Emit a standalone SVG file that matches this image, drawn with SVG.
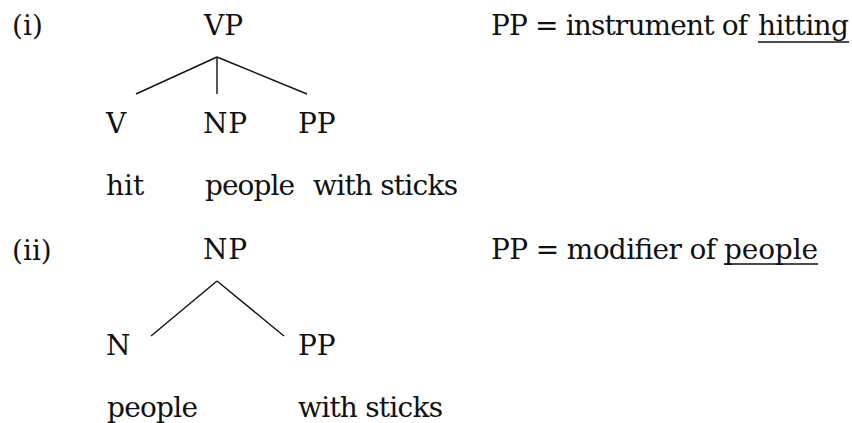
<svg xmlns="http://www.w3.org/2000/svg" width="852" height="423" viewBox="0 0 852 423">
<style>
text{font-family:"DejaVu Serif","Liberation Serif",serif;font-size:28px;fill:#111}
.e{stroke:#111;stroke-width:1.4;fill:none}
.u{stroke:#111;stroke-width:1.6}
</style>
<rect width="852" height="423" fill="#fff"/>
<g id="labels">
<text x="12" y="35">(i)</text>
<text x="12" y="260">(ii)</text>
</g>
<g id="tree1">
<g id="vp"><text x="204" y="35">VP</text></g>
<g id="v"><text x="106" y="133">V</text><text x="106" y="195">hit</text></g>
<g id="np1"><text x="203" y="133" textLength="44">NP</text><text x="205" y="195" textLength="90">people</text></g>
<g id="pp1"><text x="298" y="133">PP</text><text x="313" y="195" textLength="145">with sticks</text></g>
<g id="note1"><text x="491" y="35" textLength="257">PP = instrument of</text><text x="758" y="35" textLength="91">hitting</text><line class="u" x1="758" y1="42" x2="849" y2="42"/></g>
</g>
<g id="tree2">
<g id="np2"><text x="203" y="259" textLength="44">NP</text></g>
<g id="n"><text x="106" y="355">N</text><text x="107" y="417" textLength="91">people</text></g>
<g id="pp2"><text x="298" y="355">PP</text><text x="298" y="417" textLength="145">with sticks</text></g>
<g id="note2"><text x="491" y="259" textLength="225">PP = modifier of</text><text x="724" y="259" textLength="94">people</text><line class="u" x1="724" y1="264" x2="818" y2="264"/></g>
</g>
<g id="connectors">
<line class="e" x1="217" y1="57" x2="136" y2="94"/>
<line class="e" x1="217" y1="57" x2="217" y2="94"/>
<line class="e" x1="217" y1="57" x2="307" y2="94"/>
<line class="e" x1="217" y1="281" x2="151" y2="336"/>
<line class="e" x1="217" y1="281" x2="284" y2="336"/>
</g>
</svg>
